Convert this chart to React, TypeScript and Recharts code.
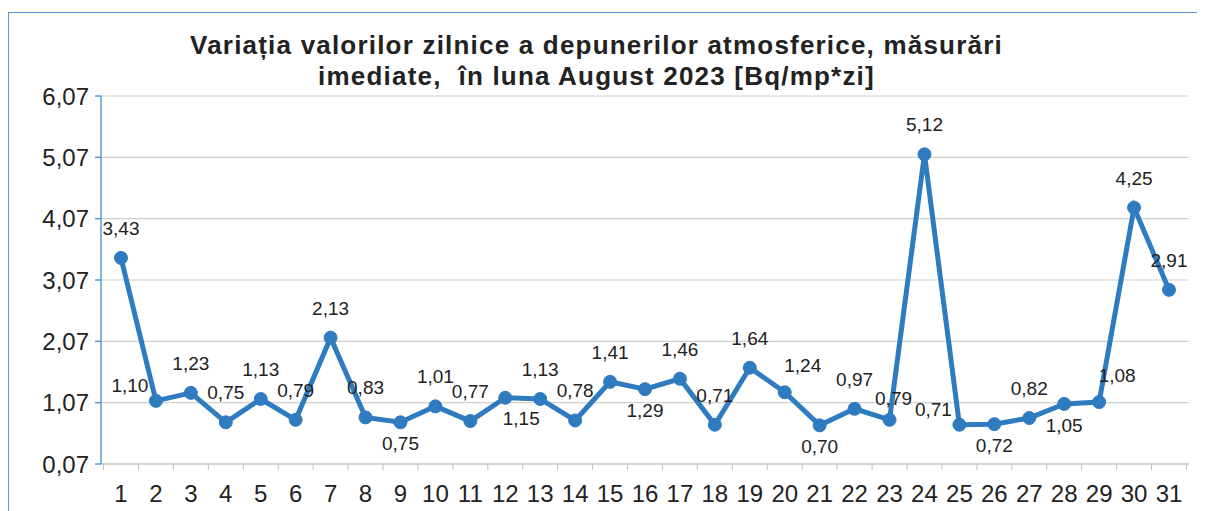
import { CartesianGrid, LabelList, Line, LineChart, XAxis, YAxis } from 'recharts'

const DAYS = [
  '1', '2', '3', '4', '5', '6', '7', '8', '9', '10', '11', '12', '13', '14', '15', '16',
  '17', '18', '19', '20', '21', '22', '23', '24', '25', '26', '27', '28', '29', '30', '31',
]

const VALUES = [
  3.43, 1.1, 1.23, 0.75, 1.13, 0.79, 2.13, 0.83, 0.75, 1.01, 0.77, 1.15, 1.13, 0.78, 1.41, 1.29,
  1.46, 0.71, 1.64, 1.24, 0.7, 0.97, 0.79, 5.12, 0.71, 0.72, 0.82, 1.05, 1.08, 4.25, 2.91,
]

const Y_TICKS = [0.07, 1.07, 2.07, 3.07, 4.07, 5.07, 6.07]

// where each value label sits relative to its point
const LABEL_SIDE = [
  'top', 'tl', 'top', 'top', 'top', 'top', 'top', 'top', 'bottom', 'top', 'top', 'br', 'top', 'top', 'top', 'bottom',
  'top', 'top', 'top', 'tr', 'bottom', 'top', 'rt', 'top', 'tl', 'bottom', 'top', 'bottom', 'tr', 'top', 'top',
]

const SIDE_OFFSET: Record<string, [number, number]> = {
  top:    [0, -28],
  bottom: [0, 23],
  tl:     [-26, -14],
  tr:     [18, -25],
  rt:     [4, -20],
  br:     [16, 22],
}

const LINE_BLUE = '#2f7bc0'
const FRAME_BLUE = '#5b9bd5'
const TEXT = '#222'
const FONT = 'Arial, "Liberation Sans", sans-serif'

const data = DAYS.map((day, i) => ({ day, value: VALUES[i] }))

const fmt = (v: number) => v.toFixed(2).replace('.', ',')

function ValueLabel(props: any) {
  const { x, y, value, index } = props
  const [dx, dy] = SIDE_OFFSET[LABEL_SIDE[index]] ?? SIDE_OFFSET.top
  return (
    <text
      x={x + dx}
      y={y + dy}
      textAnchor="middle"
      dominantBaseline="middle"
      fontSize={19}
      fontFamily={FONT}
      fill={TEXT}
    >
      {fmt(value)}
    </text>
  )
}

const BAND = 34.9

function DayTick(props: any) {
  const { x, y, payload, index } = props
  const last = index === DAYS.length - 1
  return (
    <g>
      <line x1={x - BAND / 2} x2={x - BAND / 2} y1={y - 8} y2={y - 2} stroke="#bfbfbf" />
      {last && <line x1={x + BAND / 2} x2={x + BAND / 2} y1={y - 8} y2={y - 2} stroke="#bfbfbf" />}
      <text x={x} y={y + 30} textAnchor="middle" fontSize={24} fontFamily={FONT} fill={TEXT}>
        {payload.value}
      </text>
    </g>
  )
}

export default function App() {
  return (
    <div
      style={{
        position: 'relative',
        width: 1188,
        height: 503,
        marginTop: 4,
        borderTop: `1.5px solid ${FRAME_BLUE}`,
        borderLeft: `1.5px solid ${FRAME_BLUE}`,
        borderRight: `1.5px solid ${FRAME_BLUE}`,
        fontFamily: FONT,
      }}
    >
      <div
        style={{
          position: 'absolute',
          left: 0,
          top: 17,
          width: 1175,
          textAlign: 'center',
          fontWeight: 'bold',
          fontSize: 26,
          letterSpacing: 1.2,
          lineHeight: '31px',
          color: TEXT,
        }}
      >
        Variația valorilor zilnice a depunerilor atmosferice, măsurări
        <br />
        imediate,&nbsp; în luna August 2023 [Bq/mp*zi]
      </div>
      <div style={{ position: 'absolute', left: 0, top: -5 }}>
        <LineChart
          width={1188}
          height={503}
          data={data}
          margin={{ top: 88, right: 8, bottom: 6, left: 12 }}
        >
          <CartesianGrid vertical={false} stroke="#d0d0d0" strokeWidth={1.2} />
          <XAxis
            dataKey="day"
            interval={0}
            height={41}
            padding={{ left: 20, right: 20 }}
            stroke="#bfbfbf"
            tickLine={false}
            tick={<DayTick />}
          />
          <YAxis
            domain={[0.07, 6.07]}
            ticks={Y_TICKS}
            tickFormatter={fmt}
            width={80}
            stroke={FRAME_BLUE}
            strokeWidth={1.5}
            tickSize={6}
            tickMargin={6}
            tick={{ fontSize: 24, fontFamily: FONT, fill: TEXT }}
          />
          <Line
            type="linear"
            dataKey="value"
            stroke={LINE_BLUE}
            strokeWidth={5}
            dot={{ r: 6.5, fill: LINE_BLUE, stroke: LINE_BLUE, strokeWidth: 1 }}
            isAnimationActive={false}
          >
            <LabelList dataKey="value" content={<ValueLabel />} />
          </Line>
        </LineChart>
      </div>
    </div>
  )
}
